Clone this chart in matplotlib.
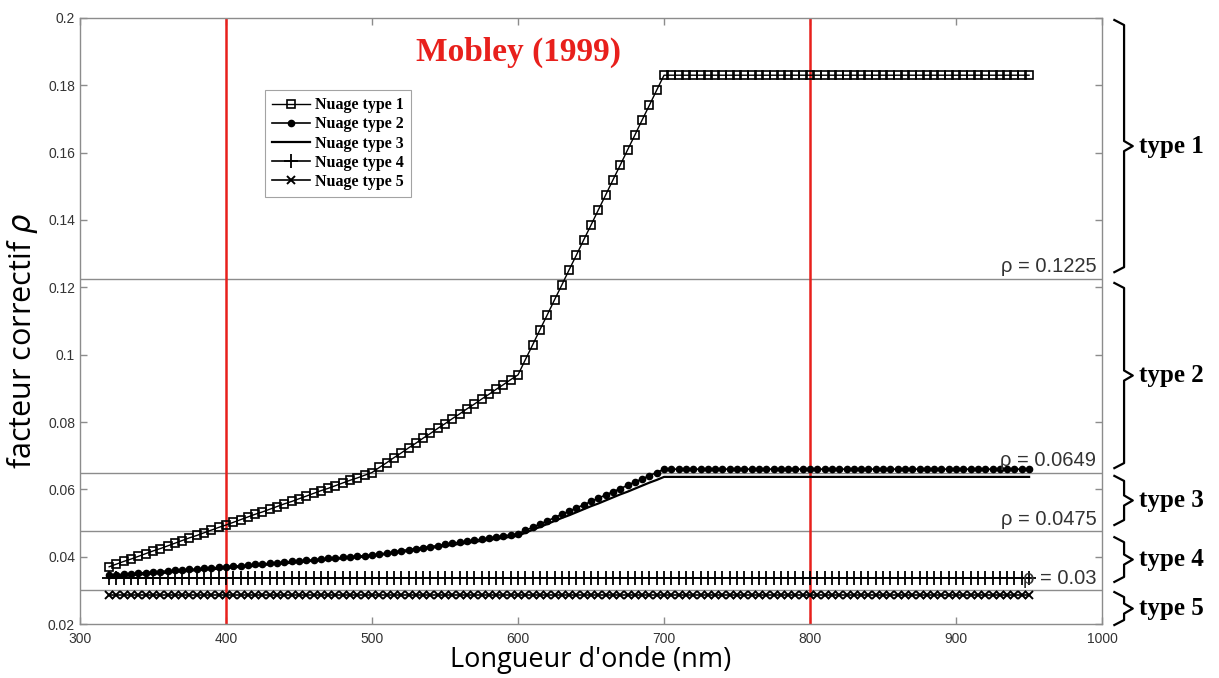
import matplotlib
matplotlib.use('Agg')
import matplotlib.pyplot as plt
import matplotlib.transforms as mtransforms

# Données
longueur_onde = list(range(320, 951, 5))

type1 = [0.0370, 0.0378, 0.0386, 0.0393, 0.0401, 0.0409, 0.0417, 0.0424, 0.0432, 0.0440,
         0.0448, 0.0456, 0.0463, 0.0471, 0.0479, 0.0487, 0.0494, 0.0502, 0.0510, 0.0518,
         0.0526, 0.0533, 0.0541, 0.0549, 0.0557, 0.0564, 0.0572, 0.0580, 0.0588, 0.0596,
         0.0603, 0.0611, 0.0619, 0.0627, 0.0634, 0.0642, 0.0650,
         0.0665, 0.0679, 0.0694, 0.0708, 0.0723, 0.0737, 0.0752, 0.0766, 0.0781, 0.0795,
         0.0810, 0.0824, 0.0839, 0.0853, 0.0868, 0.0882, 0.0897, 0.0911, 0.0926, 0.0940,
         0.0985, 0.1029, 0.1074, 0.1118, 0.1163, 0.1207, 0.1252, 0.1296, 0.1341, 0.1385,
         0.1430, 0.1474, 0.1519, 0.1563, 0.1608, 0.1652, 0.1697, 0.1741, 0.1786, 0.1830] + [0.183] * 50

type2 = [0.0345, 0.0347, 0.0348, 0.0350, 0.0351, 0.0353, 0.0354, 0.0356, 0.0358, 0.0359,
         0.0361, 0.0362, 0.0364, 0.0365, 0.0367, 0.0368, 0.0370,
         0.0372, 0.0373, 0.0375, 0.0377, 0.0379, 0.0380, 0.0382, 0.0384, 0.0386, 0.0388,
         0.0389, 0.0391, 0.0393, 0.0395, 0.0396, 0.0398, 0.0400, 0.0402, 0.0403, 0.0405,
         0.0408, 0.0411, 0.0414, 0.0418, 0.0421, 0.0424, 0.0427, 0.0430, 0.0433, 0.0437,
         0.0440, 0.0443, 0.0446, 0.0449, 0.0452, 0.0455, 0.0459, 0.0462, 0.0465, 0.0468,
         0.0478, 0.0487, 0.0497, 0.0506, 0.0516, 0.0526, 0.0535, 0.0545, 0.0554, 0.0564,
         0.0574, 0.0583, 0.0593, 0.0602, 0.0612, 0.0622, 0.0631, 0.0641, 0.0650, 0.0660] + [0.066] * 50

type3 = [0.0340, 0.0342, 0.0343, 0.0345, 0.0347, 0.0348, 0.0350, 0.0351, 0.0353, 0.0355,
         0.0356, 0.0358, 0.0360, 0.0361, 0.0363, 0.0364, 0.0366,
         0.0368, 0.0370, 0.0371, 0.0373, 0.0375, 0.0377, 0.0379, 0.0380, 0.0382, 0.0384,
         0.0386, 0.0388, 0.0389, 0.0391, 0.0393, 0.0395, 0.0397, 0.0398, 0.0400, 0.0402,
         0.0405, 0.0408, 0.0411, 0.0414, 0.0417, 0.0420, 0.0423, 0.0426, 0.0429, 0.0432,
         0.0435, 0.0438, 0.0441, 0.0444, 0.0447, 0.0450, 0.0453, 0.0456, 0.0459, 0.0462,
         0.0471, 0.0480, 0.0488, 0.0497, 0.0506, 0.0515, 0.0523, 0.0532, 0.0541, 0.0550,
         0.0558, 0.0567, 0.0576, 0.0585, 0.0593, 0.0602, 0.0611, 0.0620, 0.0628, 0.0637] + [0.0637] * 50

type4 = [0.0338] * len(longueur_onde)
type5 = [0.0287] * len(longueur_onde)

# seuils de rho
seuils = [0.1225, 0.0649, 0.0475, 0.03]
seuils_labels = ['ρ = 0.1225', 'ρ = 0.0649', 'ρ = 0.0475', 'ρ = 0.03']

# accolades à droite : (haut, bas, texte)
accolades = [(0.1994, 0.1245, 'type 1'),
             (0.1213, 0.0663, 'type 2'),
             (0.0640, 0.0494, 'type 3'),
             (0.0458, 0.0325, 'type 4'),
             (0.0295, 0.0197, 'type 5')]

fig = plt.figure(figsize=(12.19, 6.78), dpi=100)
ax = fig.add_axes([0.0656, 0.0796, 0.8385, 0.8939])

gris = '#8c8c8c'

# lignes horizontales des seuils
for s in seuils:
    ax.axhline(s, color=gris, lw=1.0, zorder=1)

# lignes verticales rouges
for xv in [400, 800]:
    ax.axvline(xv, color='#e8201c', lw=1.8, zorder=2)

ax.plot(longueur_onde, type1, color='black', lw=1, marker='s', ms=6, mfc='none',
        mew=1.2, label='Nuage type 1', zorder=3)
ax.plot(longueur_onde, type2, color='black', lw=1.2, marker='o', ms=4.5,
        label='Nuage type 2', zorder=3)
ax.plot(longueur_onde, type3, color='black', lw=1.6, label='Nuage type 3', zorder=3)
ax.plot(longueur_onde, type4, color='black', lw=1.2, marker='+', ms=10, mew=1.3,
        label='Nuage type 4', zorder=3)
ax.plot(longueur_onde, type5, color='black', lw=1.2, marker='x', ms=6, mew=1.4,
        label='Nuage type 5', zorder=3)

ax.set_xlim(300, 1000)
ax.set_ylim(0.02, 0.2)
ax.set_xticks(range(300, 1001, 100))
ax.set_yticks([0.02, 0.04, 0.06, 0.08, 0.1, 0.12, 0.14, 0.16, 0.18, 0.2])
ax.set_yticklabels(['0.02', '0.04', '0.06', '0.08', '0.1', '0.12', '0.14', '0.16', '0.18', '0.2'])
ax.tick_params(direction='in', length=5, color=gris, labelsize=10, labelcolor='#333333',
               top=True, right=True, width=1)
ax.tick_params(axis='x', pad=6)
for lab in ax.get_xticklabels() + ax.get_yticklabels():
    lab.set_family('Liberation Sans')
for sp in ax.spines.values():
    sp.set_color(gris)
    sp.set_linewidth(1.0)

fig.text(591 / 1219, 1 - 660 / 678, "Longueur d'onde (nm)", fontsize=19.5,
         family='Open Sans', ha='center', va='center')
fig.text(22 / 1219, 1 - 341 / 678, 'facteur correctif $\\rho$', fontsize=22,
         family='Open Sans', ha='center', va='center', rotation=90)

# étiquettes des seuils
for s, t in zip(seuils, seuils_labels):
    ax.text(996, s + 0.0008, t, ha='right', va='bottom', fontsize=14.5,
            family='Liberation Sans', color='#333333', zorder=4)

# titre
ax.text(0.4295, 0.943, 'Mobley (1999)', color='#e8201c', fontsize=24, fontweight='bold',
        family='Liberation Serif', ha='center', va='center', transform=ax.transAxes)

# légende
leg = ax.legend(loc='upper left', bbox_to_anchor=(0.181, 0.881), frameon=True,
                fancybox=False, edgecolor=gris, handlelength=2.4, handletextpad=0.3,
                labelspacing=0.2, borderpad=0.45, borderaxespad=0,
                prop={'family': 'Liberation Serif', 'weight': 'bold', 'size': 11.5})
leg.get_frame().set_linewidth(0.8)

# accolades à droite
trans = mtransforms.blended_transform_factory(ax.transAxes, ax.transData)
x0, x1, x2 = 1.012, 1.0215, 1.030
for haut, bas, txt in accolades:
    mid = (haut + bas) / 2
    e = 0.0015
    ax.plot([x0, x1, x1, x2, x1, x1, x0],
            [haut, haut - e, mid + e, mid, mid - e, bas + e, bas],
            color='black', lw=1.6, transform=trans, clip_on=False)
    ax.text(1.036, mid, txt, transform=trans, fontsize=18, fontweight='bold',
            family='Liberation Serif', va='center', ha='left')

fig.savefig('out.png', dpi=100)
